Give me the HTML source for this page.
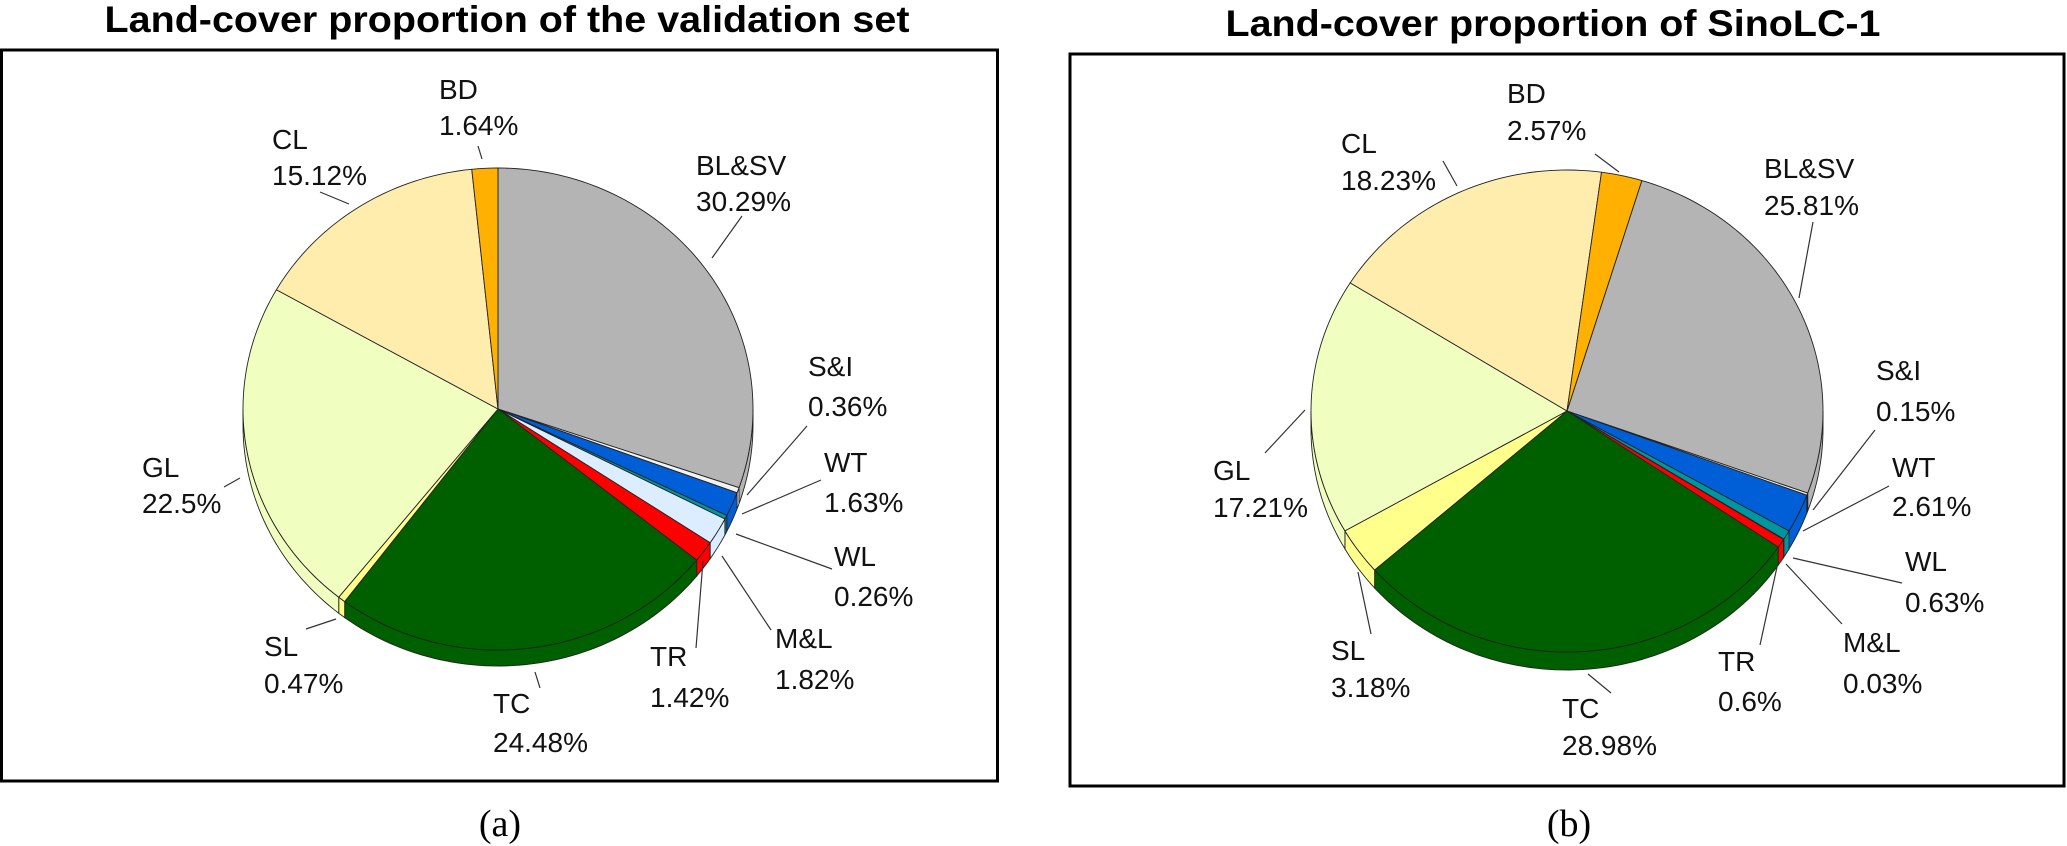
<!DOCTYPE html>
<html><head><meta charset="utf-8">
<style>
html,body{margin:0;padding:0;background:#fff;}
svg{display:block;font-family:"Liberation Sans",Arial,sans-serif;}
</style></head>
<body>
<svg id="chart" width="2067" height="846" viewBox="0 0 2067 846" xmlns="http://www.w3.org/2000/svg">
  <rect x="0" y="0" width="2067" height="846" fill="#fff"/>
  <text x="507" y="32" font-size="37" font-weight="bold" text-anchor="middle" textLength="805" lengthAdjust="spacingAndGlyphs">Land-cover proportion of the validation set</text>
  <text x="1553" y="36" font-size="37" font-weight="bold" text-anchor="middle" textLength="655" lengthAdjust="spacingAndGlyphs">Land-cover proportion of SinoLC-1</text>
  <rect x="1.5" y="50" width="996" height="731" fill="none" stroke="#000" stroke-width="3"/>
  <rect x="1070" y="54" width="994" height="732" fill="none" stroke="#000" stroke-width="3"/>
  <text x="500" y="836" font-size="38" font-family="Liberation Serif, serif" text-anchor="middle">(a)</text>
  <text x="1569" y="836" font-size="38" font-family="Liberation Serif, serif" text-anchor="middle">(b)</text>
  <g id="pieA"></g>
  <g id="pieB"></g>
</svg>
<script>
const categories = ["BL&SV","S&I","WT","WL","M&L","TR","TC","SL","GL","CL","BD"];
const valuesA = [30.29,0.36,1.63,0.26,1.82,1.42,24.48,0.47,22.5,15.12,1.64];
const valuesB = [25.81,0.15,2.61,0.63,0.03,0.6,28.98,3.18,17.21,18.23,2.57];
const labelsA = ["30.29%","0.36%","1.63%","0.26%","1.82%","1.42%","24.48%","0.47%","22.5%","15.12%","1.64%"];
const labelsB = ["25.81%","0.15%","2.61%","0.63%","0.03%","0.6%","28.98%","3.18%","17.21%","18.23%","2.57%"];

const colors = ["#b4b4b4","#f2f2f2","#005ed6","#0096a0","#dcedff","#ff0000","#006000","#ffff8c","#f0ffc0","#ffedad","#ffb000"];
const NS = "http://www.w3.org/2000/svg";
// layout: [label x, line1 y, line2 y, leader x1,y1,x2,y2]
const layoutA = [
 [696,165,201,742,216,712,258],[808,366,406,807,426,747,495],[824,462,502,821,480,742,514],
 [834,556,596,832,569,736,534],[775,638,679,771,630,722,556],[650,656,697,696,648,703,561],
 [493,703,742,540,688,535,672],[264,646,683,306,629,336,619],[142,467,503,224,487,240,478],
 [272,139,175,320,192,349,204],[439,89,125,478,146,482,159]];
const layoutB = [
 [1764,168,205,1813,222,1799,298],[1876,370,411,1875,430,1813,510],[1892,467,506,1889,486,1803,531],
 [1905,561,602,1902,583,1793,558],[1843,642,683,1842,624,1786,564],[1718,661,701,1760,645,1777,567],
 [1562,708,745,1611,693,1588,674],[1331,650,687,1371,634,1358,572],[1213,470,507,1265,453,1305,410],
 [1341,143,180,1443,161,1457,186],[1507,93,130,1595,154,1619,172]];

function pt(g,a,dy){const r=a*Math.PI/180;return [g.cx+g.rx*Math.sin(r), g.cy-g.ry*Math.cos(r)+(dy||0)];}
function arcPath(g,a1,a2,dy){let d="";const n=Math.max(2,Math.ceil((a2-a1)/1.5));for(let i=0;i<=n;i++){const p=pt(g,a1+(a2-a1)*i/n,dy);d+=(i?"L":"")+p[0].toFixed(2)+","+p[1].toFixed(2);}return d;}
function revArc(g,a1,a2,dy){let d="";const n=Math.max(2,Math.ceil((a2-a1)/1.5));for(let i=n;i>=0;i--){const p=pt(g,a1+(a2-a1)*i/n,dy);d+="L"+p[0].toFixed(2)+","+p[1].toFixed(2);}return d;}

function drawPie(id,vals,labs,layout,g,prefix){
  const root=document.getElementById(id);
  const total=vals.reduce((s,v)=>s+v,0);
  let a=g.start; const spans=[];
  vals.forEach(v=>{const b=a+v/total*360;spans.push([a,b]);a=b;});
  // side walls
  spans.forEach((s,i)=>{
    let a1=Math.max(s[0],90),a2=Math.min(s[1],270);
    let a3=Math.max(s[0],450),a4=Math.min(s[1],630);
    [[a1,a2],[a3,a4]].forEach(r=>{
      if(r[1]>r[0]){
        const p=document.createElementNS(NS,"path");
        p.setAttribute("d","M"+arcPath(g,r[0],r[1],0)+revArc(g,r[0],r[1],g.depth)+"Z");
        p.setAttribute("fill",colors[i]);p.setAttribute("stroke","#222");p.setAttribute("stroke-width","0.9");
        
        
        root.appendChild(p);
      }
    });
  });
  // top faces
  spans.forEach((s,i)=>{
    const p=document.createElementNS(NS,"path");
    p.setAttribute("d","M"+g.cx+","+g.cy+"L"+arcPath(g,s[0],s[1],0)+"Z");
    p.setAttribute("fill",colors[i]);p.setAttribute("stroke","#222");p.setAttribute("stroke-width","0.9");p.setAttribute("stroke-linejoin","round");
    
    
    root.appendChild(p);
  });
  // labels
  layout.forEach((l,i)=>{
    const ln=document.createElementNS(NS,"line");
    ln.setAttribute("x1",l[3]);ln.setAttribute("y1",l[4]);ln.setAttribute("x2",l[5]);ln.setAttribute("y2",l[6]);
    ln.setAttribute("stroke","#333");ln.setAttribute("stroke-width","1.2");
    
    
    root.appendChild(ln);
    const t=document.createElementNS(NS,"text");
    t.setAttribute("x",l[0]);t.setAttribute("font-size","28");t.setAttribute("fill","#111");
    
    
    const s1=document.createElementNS(NS,"tspan");s1.setAttribute("x",l[0]);s1.setAttribute("y",l[1]+10);s1.textContent=categories[i];
    const s2=document.createElementNS(NS,"tspan");s2.setAttribute("x",l[0]);s2.setAttribute("y",l[2]+10);s2.textContent=labs[i];
    t.appendChild(s1);t.appendChild(s2);root.appendChild(t);
  });
}
drawPie("pieA",valuesA,labelsA,layoutA,{cx:498,cy:409,rx:255,ry:241,depth:16,start:0},"a");
drawPie("pieB",valuesB,labelsB,layoutB,{cx:1567,cy:411,rx:256,ry:241,depth:18,start:17},"b");
</script>
</body></html>
